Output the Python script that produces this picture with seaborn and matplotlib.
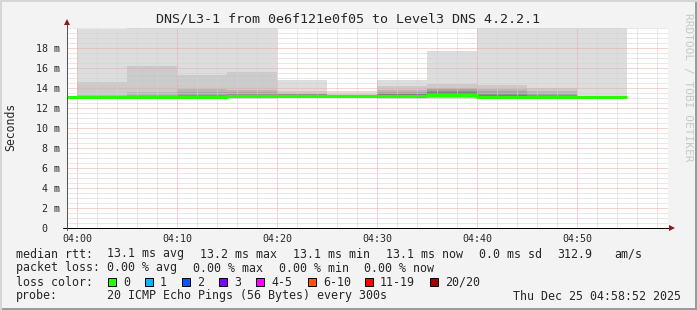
import numpy as np
import pandas as pd
import matplotlib
matplotlib.use("Agg")
import matplotlib.pyplot as plt
import seaborn as sns
from matplotlib.patches import Rectangle
from matplotlib.lines import Line2D

# ---------------- data ----------------
title = "DNS/L3-1 from 0e6f121e0f05 to Level3 DNS 4.2.2.1"
median_times = ["03:55", "04:00", "04:05", "04:10", "04:15", "04:20",
                "04:25", "04:30", "04:35", "04:40", "04:45", "04:50"]
median_ms = [13.1, 13.1, 13.1, 13.1, 13.2, 13.17,
             13.17, 13.25, 13.35, 13.1, 13.1, 13.1]
step_end = "04:55"

smoke_times = ["04:00", "04:05", "04:10", "04:15", "04:20", "04:25",
               "04:30", "04:35", "04:40", "04:45", "04:50"]
pings_0400 = [13.0, 13.05, 13.05, 13.1, 13.1, 13.1, 13.1, 13.1, 13.1, 13.1,
              13.1, 13.1, 13.15, 13.15, 13.2, 13.2, 13.25, 13.35, 14.6, 19.9]
pings_0405 = [13.0, 13.05, 13.05, 13.1, 13.1, 13.1, 13.1, 13.1, 13.1, 13.1,
              13.1, 13.15, 13.15, 13.2, 13.2, 13.25, 13.35, 13.6, 16.2, 25.0]
pings_0410 = [13.0, 13.05, 13.05, 13.1, 13.1, 13.1, 13.1, 13.1, 13.1, 13.1,
              13.1, 13.15, 13.15, 13.2, 13.25, 13.35, 13.65, 13.9, 15.3, 22.0]
pings_0415 = [12.95, 13.0, 13.05, 13.1, 13.1, 13.15, 13.15, 13.2, 13.2, 13.2,
              13.2, 13.2, 13.25, 13.3, 13.35, 13.45, 13.6, 13.8, 15.6, 21.0]
pings_0420 = [13.05, 13.1, 13.1, 13.1, 13.15, 13.15, 13.15, 13.15, 13.15, 13.15,
              13.2, 13.2, 13.25, 13.3, 13.35, 13.4, 13.45, 13.55, 13.7, 14.8]
pings_0425 = [13.05, 13.1, 13.1, 13.1, 13.1, 13.15, 13.15, 13.15, 13.15, 13.15,
              13.15, 13.15, 13.15, 13.2, 13.2, 13.25, 13.3, 13.35, 13.45, 13.7]
pings_0430 = [12.95, 13.0, 13.05, 13.1, 13.15, 13.2, 13.2, 13.2, 13.25, 13.25,
              13.25, 13.3, 13.3, 13.35, 13.4, 13.5, 13.6, 13.8, 14.2, 14.8]
pings_0435 = [12.95, 13.0, 13.05, 13.1, 13.15, 13.2, 13.25, 13.3, 13.35, 13.35,
              13.4, 13.45, 13.5, 13.55, 13.6, 13.75, 13.9, 14.0, 14.4, 17.7]
pings_0440 = [13.0, 13.05, 13.05, 13.1, 13.1, 13.1, 13.1, 13.1, 13.1, 13.1,
              13.1, 13.15, 13.2, 13.25, 13.35, 13.5, 13.7, 13.9, 14.3, 23.0]
pings_0445 = [13.0, 13.05, 13.05, 13.1, 13.1, 13.1, 13.1, 13.1, 13.1, 13.1,
              13.1, 13.15, 13.15, 13.2, 13.25, 13.35, 13.5, 13.7, 14.0, 22.0]
pings_0450 = [13.0, 13.05, 13.05, 13.1, 13.1, 13.1, 13.1, 13.1, 13.1, 13.1,
              13.1, 13.1, 13.1, 13.1, 13.15, 13.15, 13.2, 13.2, 13.25, 21.0]

x_tick_labels = ["04:00", "04:10", "04:20", "04:30", "04:40", "04:50"]
y_tick_values = [0, 2, 4, 6, 8, 10, 12, 14, 16, 18]
y_tick_labels = ["0  ", "2 m", "4 m", "6 m", "8 m", "10 m", "12 m", "14 m", "16 m", "18 m"]

loss_labels = ["0", "1", "2", "3", "4-5", "6-10", "11-19", "20/20"]
loss_colors = ["#26ff00", "#00b8ff", "#0059ff", "#7e00ff", "#ff00ff",
               "#ff5500", "#ff0000", "#a10000"]

rtt_line = [("median rtt:", 16), ("13.1 ms avg", 107), ("13.2 ms max", 200),
            ("13.1 ms min", 293), ("13.1 ms now", 386), ("0.0 ms sd", 479),
            ("312.9", 557), ("am/s", 614)]
loss_line = [("packet loss:", 16), ("0.00 % avg", 107), ("0.00 % max", 193),
             ("0.00 % min", 279), ("0.00 % now", 364)]
probe_text = "20 ICMP Echo Pings (56 Bytes) every 300s"
date_text = "Thu Dec 25 04:58:52 2025"


def to_min(t):
    h, m = t.split(":")
    return (int(h) - 4) * 60 + int(m)


# ---------------- figure ----------------
W, H = 697, 310
sns.set_style("white")
plt.rcParams["font.family"] = ["DejaVu Sans Mono", "DejaVu Sans"]
fig = plt.figure(figsize=(W / 100, H / 100), dpi=100)
fig.patch.set_facecolor("#f3f3f3")

L, R, B, T = 67, 668, 228, 28
ax = fig.add_axes([L / W, (H - B) / H, (R - L) / W, (B - T) / H])
ax.set_facecolor("white")
PX = 0.72  # one pixel in points

# smoke
ping_columns = [pings_0400, pings_0405, pings_0410, pings_0415, pings_0420, pings_0425,
                pings_0430, pings_0435, pings_0440, pings_0445, pings_0450]
sx = np.array([to_min(t) for t in smoke_times] + [to_min(step_end)], dtype=float)
P = np.array(ping_columns)
n = P.shape[1]
half = n / 2
ibot, itop = 0, n - 1
while itop > ibot:
    c = int(190 / half * (half - (ibot + 1))) + 50
    col = "#%02x%02x%02x" % (c, c, c)
    lo = np.append(P[:, ibot], P[-1, ibot])
    hi = np.append(P[:, itop], P[-1, itop])
    ax.fill_between(sx, lo, hi, step="post", color=col, lw=0, zorder=1)
    ibot += 1
    itop -= 1

# median line
med_df = pd.DataFrame({
    "minute": [to_min(t) for t in median_times] + [to_min(step_end)],
    "rtt": median_ms + [median_ms[-1]],
})
sns.lineplot(data=med_df, x="minute", y="rtt", ax=ax, color=loss_colors[0],
             lw=3 * PX, drawstyle="steps-post", estimator=None, zorder=3,
             legend=False, solid_capstyle="butt")

# axes limits and grid
ax.set_xlim(-1.03, 59.07)
ax.set_ylim(0, 20)
ax.set_xticks([to_min(t) for t in x_tick_labels], labels=x_tick_labels)
ax.set_xticks(np.arange(0, 59, 2), minor=True)
ax.set_yticks(y_tick_values, labels=y_tick_labels)
ax.set_yticks(np.arange(0, 20.01, 0.5), minor=True)
ax.set_axisbelow(False)
ax.grid(which="minor", color="#d2d2d2", lw=PX, linestyle=(0, (1, 1)))
ax.grid(which="major", color="#eaa8a8", lw=PX, linestyle=(0, (1, 1)))
ax.tick_params(which="both", length=0)
ax.tick_params(axis="x", labelsize=7.2, pad=4)
ax.tick_params(axis="y", labelsize=7.2, pad=5)
ax.set_xlabel("")
ax.set_ylabel("")
for s in ax.spines.values():
    s.set_visible(False)

# axis lines with arrows
ax.add_line(Line2D([-0.006, 1.003], [0, 0], transform=ax.transAxes, color="black",
                   lw=PX, clip_on=False, zorder=4))
ax.add_line(Line2D([0, 0], [-0.01, 1.02], transform=ax.transAxes, color="#555555",
                   lw=PX, clip_on=False, zorder=4))
ax.plot([1.006], [0], marker=">", ms=5, color="#8b1a1a", transform=ax.transAxes,
        clip_on=False, zorder=5, mew=0)
ax.plot([0], [1.03], marker="^", ms=5, color="#8b1a1a", transform=ax.transAxes,
        clip_on=False, zorder=5, mew=0)

# titles / labels
fig.text(0.5, 1 - 19 / H, title, ha="center", va="center", fontsize=9.6)
fig.text(11 / W, 1 - 127 / H, "Seconds", rotation=90, ha="center", va="center",
         fontsize=8.3)
fig.text(688 / W, 1 - 87 / H, "RRDTOOL / TOBI OETIKER", rotation=270, ha="center",
         va="center", fontsize=8.0, color="#c8c8c8")

FS = 8.37


def ftext(x, y, s, **kw):
    fig.text(x / W, 1 - y / H, s, va="center", fontsize=FS, **kw)


for s, x in rtt_line:
    ftext(x, 254, s)
for s, x in loss_line:
    ftext(x, 268, s)
ftext(16, 282, "loss color:")
box_x = [108, 145, 182, 219, 256, 308, 365, 430]
for lab, colr, bx in zip(loss_labels, loss_colors, box_x):
    fig.add_artist(Rectangle((bx / W, 1 - 286 / H), 8 / W, 8 / H, transform=fig.transFigure,
                             facecolor=colr, edgecolor="black", lw=PX))
    ftext(bx + 15, 282, lab)
ftext(16, 296, "probe:")
ftext(107, 296, probe_text)
ftext(681, 296, date_text, ha="right")

# frame
fig.add_artist(Line2D([0, 1], [1 / H, 1 / H], transform=fig.transFigure, color="#9a9a9a", lw=2 * PX))
fig.add_artist(Line2D([1 - 1 / W, 1 - 1 / W], [0, 1], transform=fig.transFigure, color="#9a9a9a", lw=2 * PX))
fig.add_artist(Line2D([0, 1], [1 - 1 / H, 1 - 1 / H], transform=fig.transFigure, color="#d6d6d6", lw=2 * PX))
fig.add_artist(Line2D([1 / W, 1 / W], [0, 1], transform=fig.transFigure, color="#d6d6d6", lw=2 * PX))

fig.savefig("out.png", dpi=100, facecolor=fig.get_facecolor())
